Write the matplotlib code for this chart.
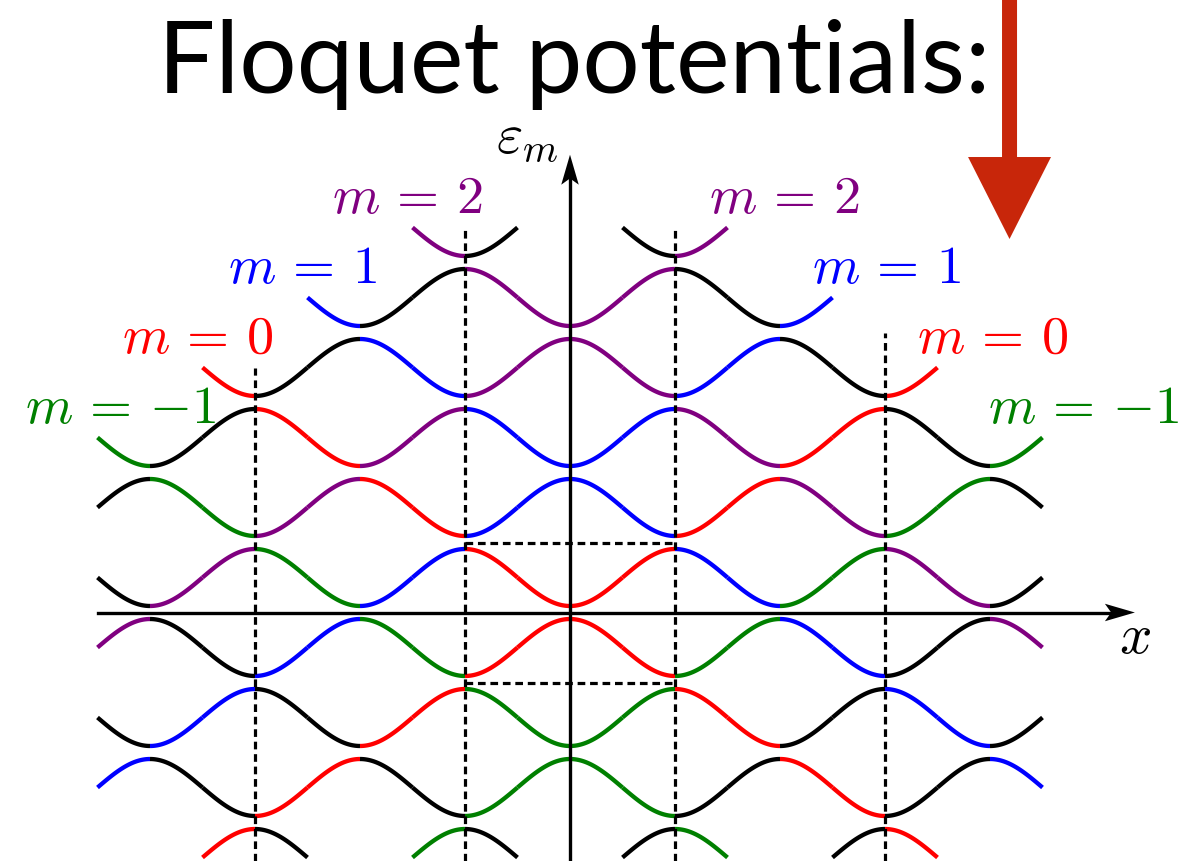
import numpy as np
import matplotlib.pyplot as plt
import matplotlib.transforms as mtransforms
from matplotlib.patches import Polygon

plt.rcParams['mathtext.fontset'] = 'cm'

# Floquet bands, one row per band index k.  Each character gives the colour
# of one half-period piece between x = -4.5 and x = 4.5 ('.' = not drawn).
band_index = [5, 4, 3, 2, 1, 0, -1, -2, -3, -4]
band_colours = [
    "......PK..KP......",
    "....BKKPPPPKKB....",
    "..RKKBBPPPPBBKKR..",
    "GKKRRPPBBBBPPRRKKG",
    "KGGPPRRBBBBRRPPGGK",
    "KPPGGBBRRRRBBGGPPK",
    "PKKBBGGRRRRGGBBKKP",
    "KBBKKRRGGGGRRKKBBK",
    "BKKRRKKGGGGKKRRKKB",
    "..RK..GK..KG..KR..",
]
half_amp = 0.407
x_first = -4.5
piece = 0.5
palette = {'K': 'black', 'R': 'red', 'B': 'blue', 'P': 'purple', 'G': 'green'}

# m labels on both sides
m_values = [2, 1, 0, -1]
m_colours = ['purple', 'blue', 'red', 'green']
m_left_x = [-1.55, -2.55, -3.55, -4.28]
m_right_x = [2.04, 3.02, 4.03, 4.89]
m_y = [5.72, 4.72, 3.72, 2.72]

# dashed guides
guide_x = [-3, -1, 1, 3]
guide_top = [3.5, 5.5, 5.5, 4.0]
level_y = [1, -1]
dash = (0, (2.4, 1.5))


def band(k, x):
    return k + 0.5 - (-1) ** k * half_amp * np.cos(np.pi * x)


def arrow_head(ax, x, y, angle, length=21.6, half_w=6.3, notch=4.5):
    # concave "latex"-style head, sizes in points, tip at (x, y)
    pts = np.array([[0, 0], [-length, half_w], [-length + notch, 0], [-length, -half_w]])
    rot = mtransforms.Affine2D().rotate_deg(angle).scale(1 / 72)
    off = mtransforms.ScaledTranslation(x, y, ax.transData)
    ax.add_patch(Polygon(pts, closed=True, color='black', lw=0,
                         transform=rot + ax.figure.dpi_scale_trans + off, zorder=6))


fig = plt.figure(figsize=(11.93, 8.62), dpi=100)
ax = fig.add_axes([0, 0, 1, 1])
ax.set_xlim(-570 / 105, 623 / 105)
ax.set_ylim((613.5 - 862) / 70, 613.5 / 70)
ax.axis('off')

for k, colours in zip(band_index, band_colours):
    for i, c in enumerate(colours):
        if c == '.':
            continue
        x0 = x_first + i * piece
        xs = np.linspace(x0, x0 + piece, 40)
        ax.plot(xs, band(k, xs), color=palette[c], lw=3.1,
                solid_capstyle='butt', zorder=3)

ymin, ymax = ax.get_ylim()
for gx, gt in zip(guide_x, guide_top):
    ax.plot([gx, gx], [ymin, gt], color='black', lw=2.3, ls=dash, zorder=4)
for ly in level_y:
    ax.plot([guide_x[1], guide_x[2]], [ly, ly], color='black', lw=2.3,
            ls=dash, zorder=4)

# axes with arrows
x_tip, y_tip = 5.38, 6.54
ax.plot([x_first, x_tip - 0.15], [0, 0], color='black', lw=2.4, zorder=5)
ax.plot([0, 0], [ymin, y_tip - 0.22], color='black', lw=2.4, zorder=5)
arrow_head(ax, x_tip, 0, 0)
arrow_head(ax, 0, y_tip, 90)

ax.text(-0.41, 6.59, r'$\varepsilon_m$', fontsize=41, ha='center', va='baseline')
ax.text(5.38, -0.56, r'$x$', fontsize=41, ha='center', va='baseline')

for m, col, xl, xr, y in zip(m_values, m_colours, m_left_x, m_right_x, m_y):
    s = r'$m\,=\,{%d}$' % m
    ax.text(xl, y, s, color=col, fontsize=39, ha='center', va='baseline')
    ax.text(xr, y, s, color=col, fontsize=39, ha='center', va='baseline')

# red arrow pointing down at the top right
ax.arrow(4.186, 9.0, 0, 5.336 - 9.0, width=0.143, head_width=0.79,
         head_length=1.171, length_includes_head=True,
         color='#C8260A', lw=0, zorder=7)

fig.text(158 / 1193, 1 - 93 / 862, 'Floquet potentials:', fontsize=73,
         family='Lato', ha='left', va='baseline')

fig.savefig('out.png', dpi=100)
